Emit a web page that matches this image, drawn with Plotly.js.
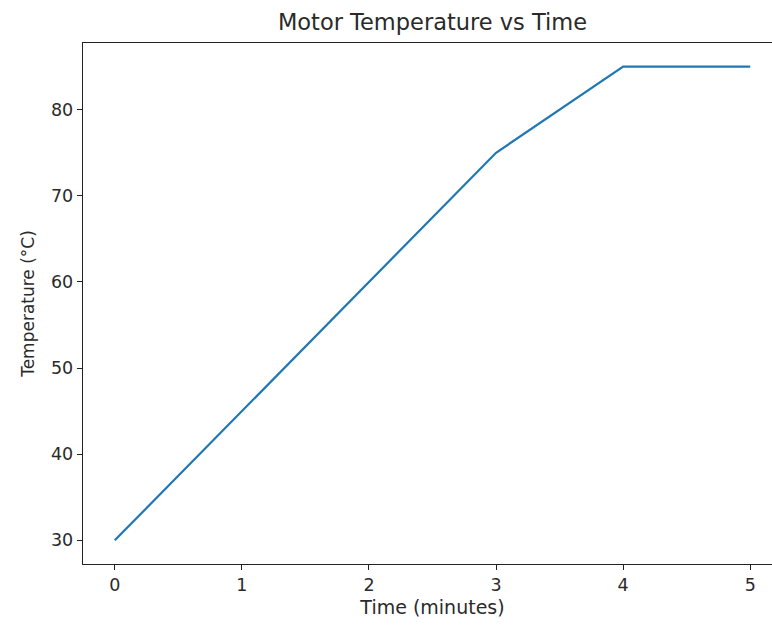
<!DOCTYPE html>
<html><head><meta charset="utf-8">
<script src="https://cdn.plot.ly/plotly-3.0.1.min.js"></script>
<style>html,body{margin:0;padding:0;overflow:hidden;background:#fff}#chart{width:792px;height:625px}</style>
</head><body><div id="chart"></div>
<script>
const timeMinutes = [0, 1, 2, 3, 4, 5];
const temperatureC = [30, 45, 60, 75, 85, 85];
const xTicks = [0, 1, 2, 3, 4, 5];
const yTicks = [30, 40, 50, 60, 70, 80];

const txt = '#2a2a2a';
const axisCommon = {
  showline: true, linecolor: '#222', linewidth: 1.3, mirror: true,
  ticks: 'outside', ticklen: 5, tickwidth: 1, tickcolor: '#222',
  showgrid: false, zeroline: false, tickfont: {family: 'DejaVu Sans', size: 17.5, color: txt}
};
Plotly.newPlot('chart', [{
  x: timeMinutes, y: temperatureC, type: 'scatter', mode: 'lines',
  line: {color: '#1f77b4', width: 2.2}
}], {
  width: 792, height: 625,
  margin: {l: 83, r: 10, t: 43, b: 61},
  paper_bgcolor: '#fff', plot_bgcolor: '#fff',
  font: {family: 'DejaVu Sans', color: txt},
  showlegend: false,
  title: {text: 'Motor Temperature vs Time', font: {family: 'DejaVu Sans', size: 22.5, color: txt}, x: 0.5, xanchor: 'center', y: 0.965, yanchor: 'middle', xref: 'paper'},
  xaxis: Object.assign({}, axisCommon, {range: [-0.25, 5.25], tickvals: xTicks,
    title: {text: 'Time (minutes)', font: {family: 'DejaVu Sans', size: 19, color: txt}, standoff: 6}}),
  yaxis: Object.assign({}, axisCommon, {range: [27.25, 87.75], tickvals: yTicks,
    title: {text: 'Temperature (°C)', font: {family: 'DejaVu Sans', size: 17, color: txt}, standoff: 12}})
}, {displayModeBar: false, staticPlot: true});
</script></body></html>
